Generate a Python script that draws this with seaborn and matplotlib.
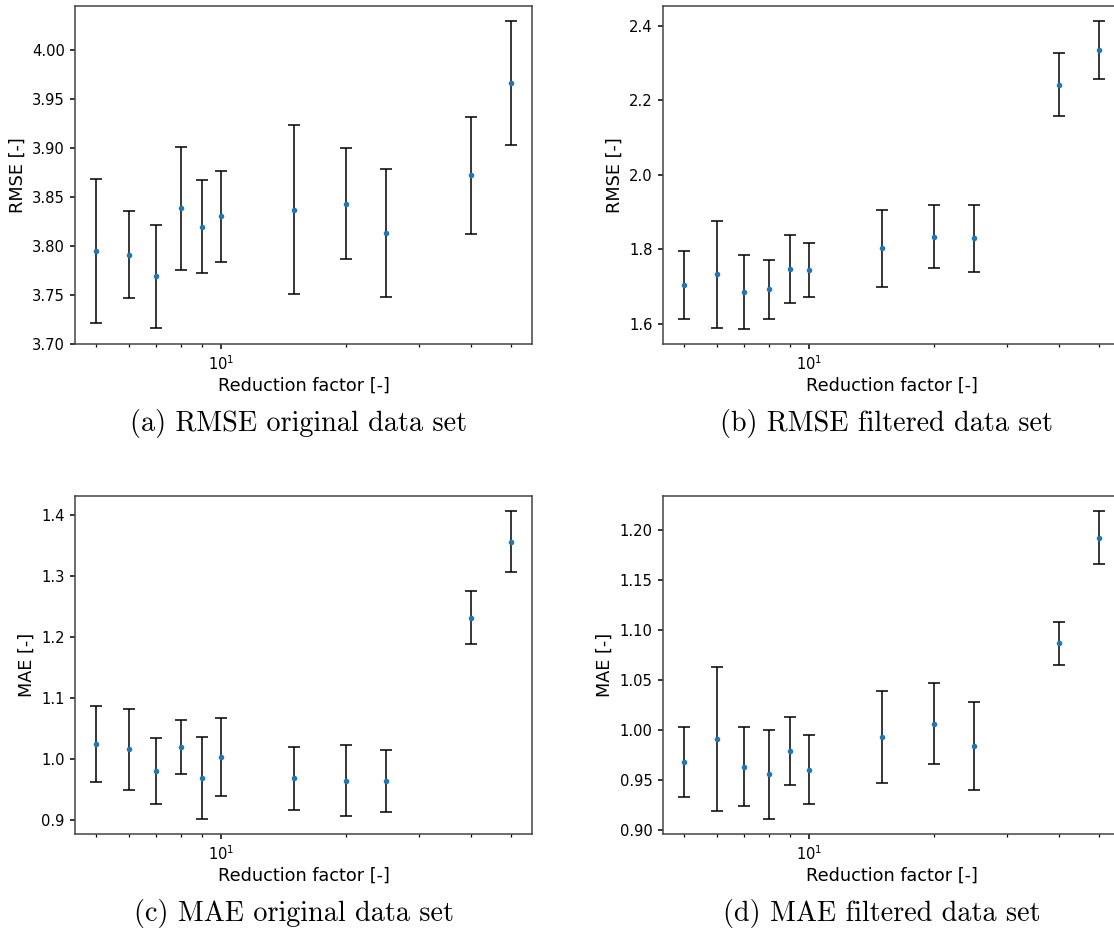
import matplotlib
matplotlib.use("Agg")
import matplotlib.pyplot as plt
import pandas as pd
import seaborn as sns
from matplotlib.ticker import NullFormatter

# Reduction factors tested
reduction_factor = [5, 6, 7, 8, 9, 10, 15, 20, 25, 40, 50]

# RMSE, original data set (mean and standard deviation)
rmse_original_mean = [3.7947, 3.7906, 3.7686, 3.8381, 3.8191, 3.8300, 3.8368, 3.8429, 3.8130, 3.8717, 3.9661]
rmse_original_err = [0.0733, 0.0444, 0.0528, 0.0625, 0.0475, 0.0464, 0.0866, 0.0569, 0.0650, 0.0597, 0.0630]

# RMSE, filtered data set
rmse_filtered_mean = [1.7045, 1.7321, 1.6857, 1.6920, 1.7473, 1.7438, 1.8018, 1.8339, 1.8286, 2.2411, 2.3339]
rmse_filtered_err = [0.0915, 0.1440, 0.0990, 0.0790, 0.0910, 0.0730, 0.1036, 0.0845, 0.0900, 0.0844, 0.0773]

# MAE, original data set
mae_original_mean = [1.0236, 1.0154, 0.9799, 1.0193, 0.9689, 1.0028, 0.9678, 0.9640, 0.9640, 1.2315, 1.3562]
mae_original_err = [0.0624, 0.0665, 0.0539, 0.0446, 0.0673, 0.0635, 0.0517, 0.0580, 0.0510, 0.0432, 0.0495]

# MAE, filtered data set
mae_filtered_mean = [0.9679, 0.9911, 0.9635, 0.9559, 0.9788, 0.9605, 0.9928, 1.0064, 0.9838, 1.0863, 1.1917]
mae_filtered_err = [0.0346, 0.0717, 0.0390, 0.0444, 0.0340, 0.0344, 0.0462, 0.0407, 0.0440, 0.0218, 0.0264]

captions = [
    "(a) RMSE original data set",
    "(b) RMSE filtered data set",
    "(c) MAE original data set",
    "(d) MAE filtered data set",
]
ylabels = ["RMSE [-]", "RMSE [-]", "MAE [-]", "MAE [-]"]
xlabel = "Reduction factor [-]"

series = [
    (rmse_original_mean, rmse_original_err),
    (rmse_filtered_mean, rmse_filtered_err),
    (mae_original_mean, mae_original_err),
    (mae_filtered_mean, mae_filtered_err),
]

plt.rcParams.update({
    "font.size": 10.6,
    "axes.linewidth": 1.1,
    "axes.edgecolor": "#444444",
    "xtick.major.width": 1.1,
    "ytick.major.width": 1.1,
    "xtick.minor.width": 0.9,
    "xtick.major.size": 3.9,
    "ytick.major.size": 3.9,
    "xtick.minor.size": 2.2,
})

W, H = 1114, 933
fig = plt.figure(figsize=(W / 100, H / 100), dpi=100)

# axes boxes in pixels: (left, top, right, bottom)
boxes = [
    (75, 6, 532, 344),
    (663, 6, 1120, 344),
    (75, 496, 532, 834),
    (663, 496, 1120, 834),
]
caption_pos = [(299, 424), (886, 424), (294, 913), (882, 913)]
# lower y limit keeps the 3.70 tick on the first panel
ylim_bottom = [3.6995, None, None, None]

for (mean, err), box, ylab, cap, cpos, yb in zip(series, boxes, ylabels, captions,
                                                  caption_pos, ylim_bottom):
    l, t, r, b = box
    ax = fig.add_axes([l / W, 1 - b / H, (r - l) / W, (b - t) / H])
    df = pd.DataFrame({"factor": reduction_factor, "value": mean, "err": err})
    ax.errorbar(df["factor"], df["value"], yerr=df["err"], fmt="none",
                ecolor="black", elinewidth=1.1, capsize=4.4, capthick=1.1, zorder=2)
    sns.scatterplot(data=df, x="factor", y="value", ax=ax, color="#1f77b4",
                    s=16, linewidth=0, zorder=3)
    ax.set_xscale("log")
    ax.xaxis.set_minor_formatter(NullFormatter())
    if yb is not None:
        ax.set_ylim(bottom=yb)
    ax.set_xlabel(xlabel, fontsize=12.7, labelpad=2.5)
    ax.set_ylabel(ylab, fontsize=12.7)
    fig.text(cpos[0] / W, 1 - cpos[1] / H, cap, family="cmr10", fontsize=20.3,
             ha="center", va="center")

fig.savefig("out.png", dpi=100)
